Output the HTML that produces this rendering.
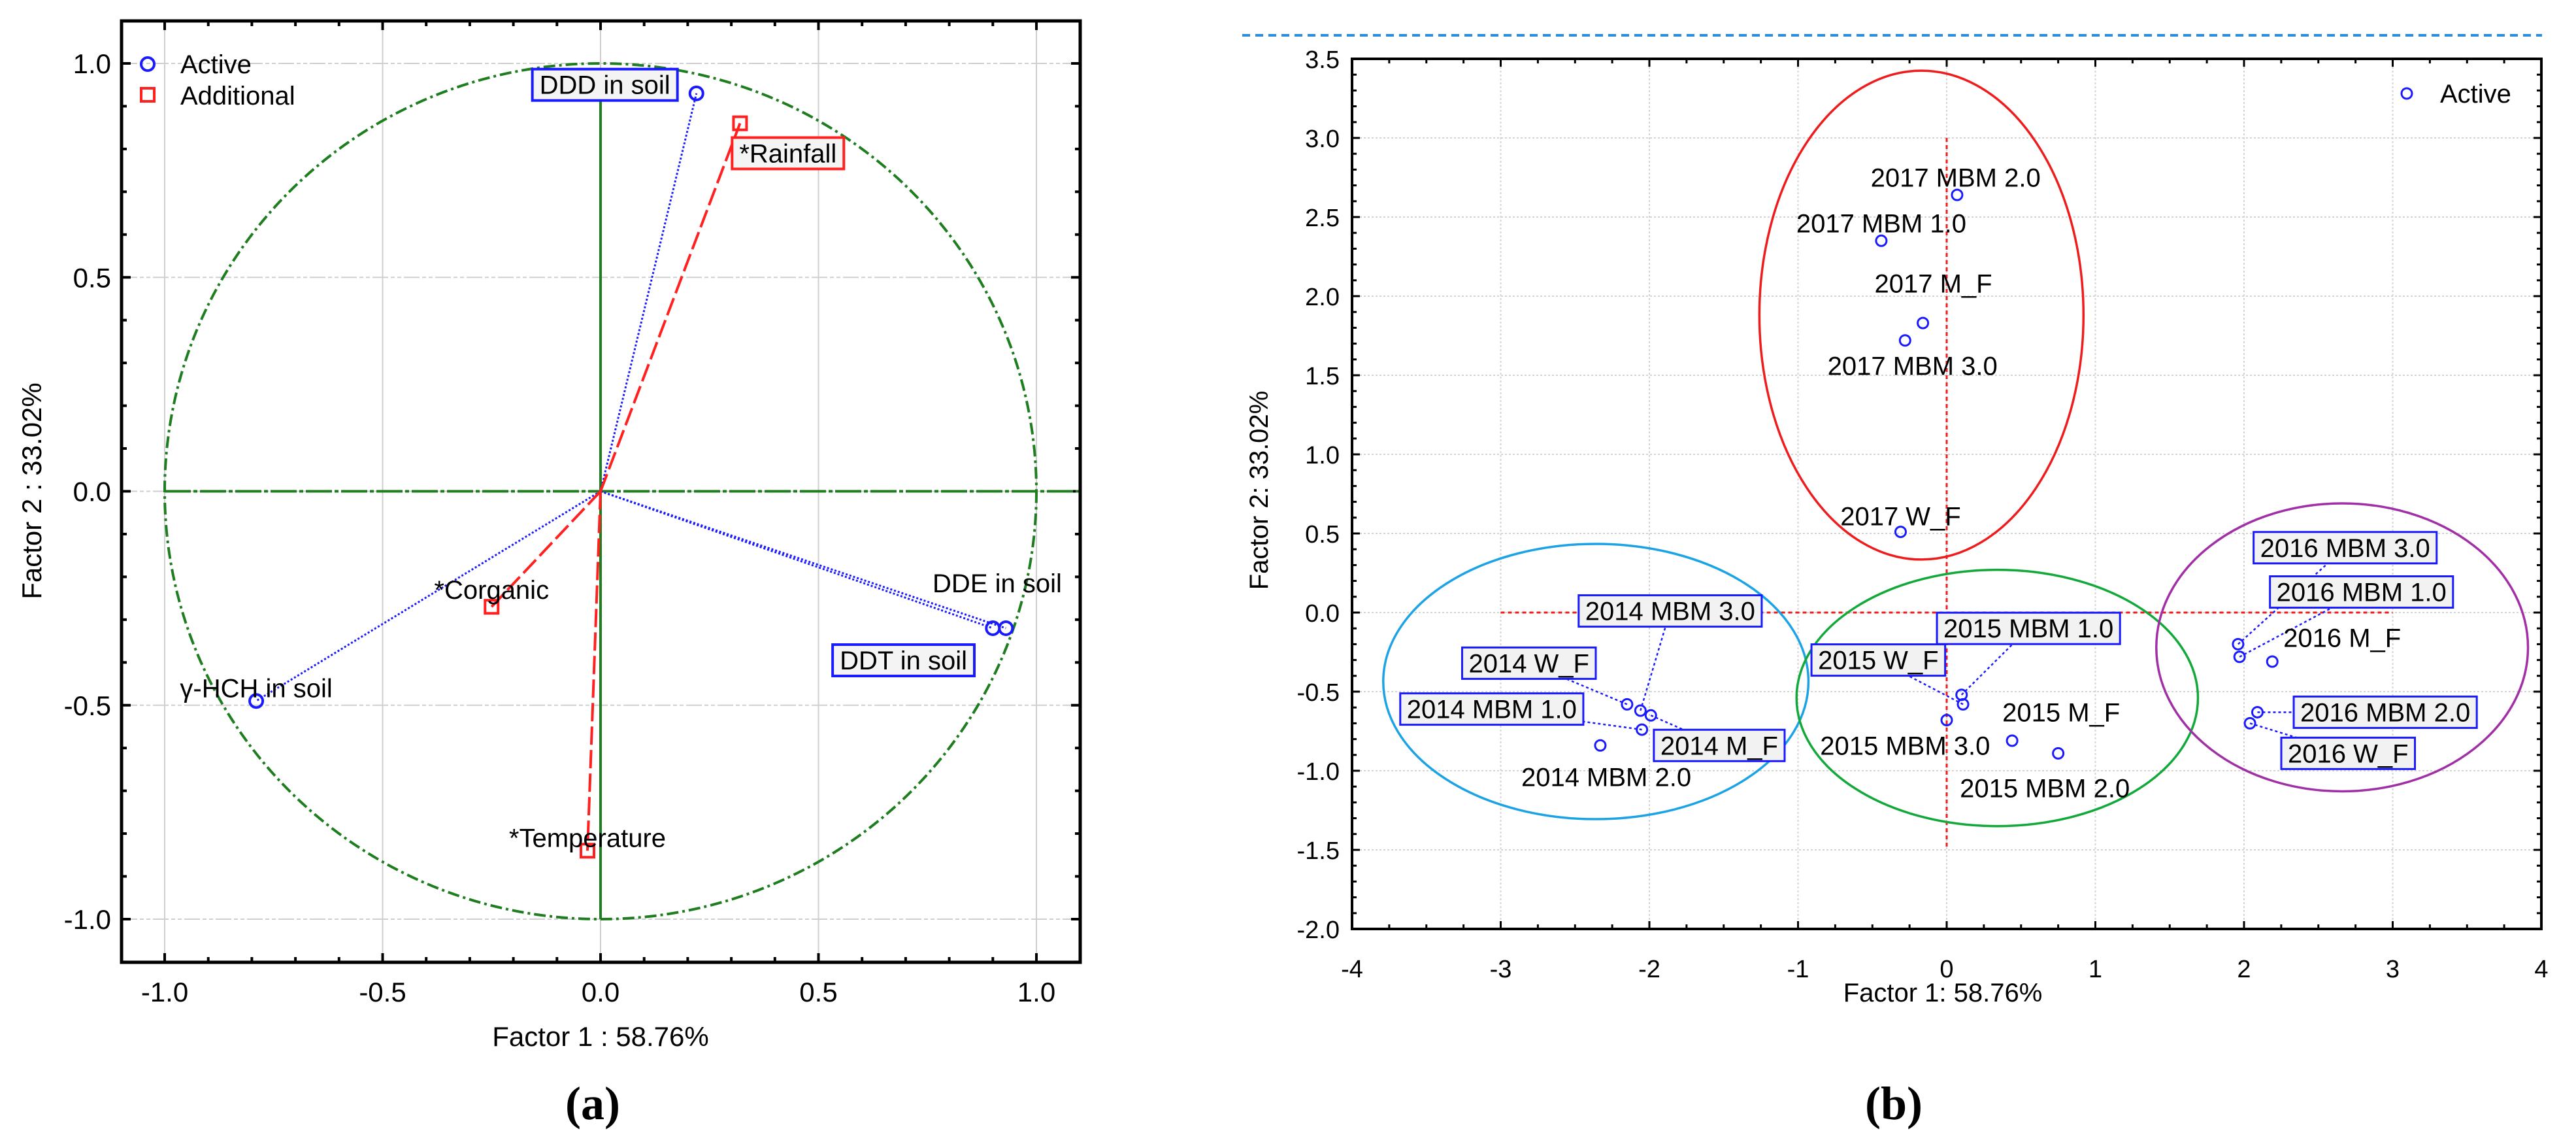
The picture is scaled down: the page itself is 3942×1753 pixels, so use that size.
<!DOCTYPE html>
<html><head><meta charset="utf-8"><style>
html,body{margin:0;padding:0;background:#fff;}
svg{display:block;font-family:"Liberation Sans",Arial,sans-serif;}
</style></head><body>
<svg id="fig" width="3942" height="1753" viewBox="0 0 3942 1753" xmlns="http://www.w3.org/2000/svg">
<g id="pa"></g>
<g id="pb"></g>
</svg>
<script>
// ---------- Panel A data ----------
const aNames = ["DDD in soil","DDE in soil","DDT in soil","γ-HCH in soil"];
const aX = [0.22, 0.93, 0.90, -0.79];
const aY = [0.93, -0.32, -0.32, -0.49];
const addNames = ["*Rainfall","*Corganic","*Temperature"];
const addX = [0.32, -0.25, -0.03];
const addY = [0.86, -0.27, -0.84];
const aTicks = [-1.0,-0.5,0.0,0.5,1.0];
const aTickLabels = ["-1.0","-0.5","0.0","0.5","1.0"];
const aLabX = [0.01, 0.91, 0.695, -0.79];
const aLabY = [0.95, -0.215, -0.395, -0.46];
const aLabBox = [true,false,true,false];
const addLabX = [0.43, -0.25, -0.03];
const addLabY = [0.79, -0.23, -0.81];
const addLabBox = [true,false,false];

// ---------- Panel B data ----------
const bNames = ["2017 MBM 2.0","2017 MBM 1.0","2017 M_F","2017 MBM 3.0","2017 W_F",
 "2014 W_F","2014 MBM 3.0","2014 M_F","2014 MBM 1.0","2014 MBM 2.0",
 "2015 MBM 1.0","2015 W_F","2015 MBM 3.0","2015 M_F","2015 MBM 2.0",
 "2016 MBM 3.0","2016 MBM 1.0","2016 M_F","2016 MBM 2.0","2016 W_F"];
const bX = [0.07,-0.44,-0.16,-0.28,-0.31, -2.15,-2.06,-1.99,-2.05,-2.33, 0.10,0.11,0.0,0.44,0.75, 1.96,1.97,2.19,2.09,2.04];
const bY = [2.64,2.35,1.83,1.72,0.51, -0.58,-0.62,-0.65,-0.74,-0.84, -0.52,-0.58,-0.68,-0.81,-0.89, -0.20,-0.28,-0.31,-0.63,-0.70];
const bLabX = [0.06,-0.44,-0.09,-0.23,-0.31, -2.81,-1.86,-1.53,-3.06,-2.29, 0.55,-0.46,-0.28,0.77,0.66, 2.68,2.79,2.66,2.95,2.70];
const bLabY = [2.75,2.46,2.08,1.56,0.61, -0.32,0.01,-0.84,-0.61,-1.04, -0.10,-0.30,-0.84,-0.63,-1.11, 0.41,0.13,-0.16,-0.63,-0.89];
const bLabBox = [false,false,false,false,false, true,true,true,true,false, true,true,false,false,false, true,true,false,true,true];
const bXTicks = [-4,-3,-2,-1,0,1,2,3,4];
const bXTickLabels = ["-4","-3","-2","-1","0","1","2","3","4"];
const bYTicks = [-2.0,-1.5,-1.0,-0.5,0.0,0.5,1.0,1.5,2.0,2.5,3.0,3.5];
const bYTickLabels = ["-2.0","-1.5","-1.0","-0.5","0.0","0.5","1.0","1.5","2.0","2.5","3.0","3.5"];
const ellCX = [-0.17,-2.36,0.34,2.66];
const ellCY = [1.88,-0.436,-0.54,-0.22];
const ellRX = [1.09,1.43,1.35,1.25];
const ellRY = [1.545,0.87,0.81,0.91];
const ellNames = ["ellipse-2017","ellipse-2014","ellipse-2015","ellipse-2016"];
const ellColors = ["#ee1c1c","#1ca3e6","#12a83a","#a12fa5"];

const NS="http://www.w3.org/2000/svg";
function mk(parent,tag,attrs,name){const e=document.createElementNS(NS,tag);for(const k in attrs)e.setAttribute(k,attrs[k]);


parent.appendChild(e);return e;}
function txt(parent,x,y,s,attrs,name){const e=mk(parent,'text',Object.assign({x:x,y:y},attrs||{}),name);e.textContent=s;return e;}

// ================= Panel A =================
(function(){
const g=document.getElementById('pa');
const X=v=>919+v*667, Y=v=>751.5-v*654.5;
const L=186,R=1653,T=32,B=1472;
aTicks.forEach((t,i)=>{
 mk(g,'line',{x1:X(t),x2:X(t),y1:T,y2:B,stroke:'#cfcfcf','stroke-width':2},'x-gridline');
 mk(g,'line',{x1:L,x2:R,y1:Y(t),y2:Y(t),stroke:'#cfcfcf','stroke-width':2,'stroke-dasharray':'24 4 6 4 6 4'},'y-gridline');
 txt(g,X(t),1532,aTickLabels[i],{'font-size':42,'text-anchor':'middle'},'x-tick-label');
 txt(g,170,Y(t)+15,aTickLabels[i],{'font-size':42,'text-anchor':'end'},'y-tick-label');
});
for(let k=-11;k<=11;k++){const v=k/10;const maj=Math.abs(k%5)==0;const len=maj?14:8;
 if(X(v)>L&&X(v)<R){mk(g,'line',{x1:X(v),x2:X(v),y1:B,y2:B-len,stroke:'#000','stroke-width':4},'x-tick');
  mk(g,'line',{x1:X(v),x2:X(v),y1:T,y2:T+len,stroke:'#000','stroke-width':4},'x-tick-top');}
 if(Y(v)>T&&Y(v)<B){mk(g,'line',{x1:L,x2:L+len,y1:Y(v),y2:Y(v),stroke:'#000','stroke-width':4},'y-tick');
  mk(g,'line',{x1:R,x2:R-len,y1:Y(v),y2:Y(v),stroke:'#000','stroke-width':4},'y-tick-right');}
}
mk(g,'ellipse',{cx:X(0),cy:Y(0),rx:667,ry:654.5,fill:'none',stroke:'#1e7d1e','stroke-width':4,'stroke-dasharray':'18 6 4 6'},'correlation-circle');
mk(g,'line',{x1:X(-1),x2:X(1.1),y1:Y(0),y2:Y(0),stroke:'#1e7d1e','stroke-width':4,'stroke-dasharray':'40 4 6 4'},'horizontal-axis-line');
mk(g,'line',{x1:X(0),x2:X(0),y1:Y(-1),y2:Y(0.92),stroke:'#1e7d1e','stroke-width':4},'vertical-axis-line');
aX.forEach((x,i)=>{
 mk(g,'line',{x1:X(0),y1:Y(0),x2:X(x),y2:Y(aY[i]),stroke:'#1a1aff','stroke-width':3,'stroke-dasharray':'3 3'},'active-vector');
});
addX.forEach((x,i)=>{
 mk(g,'line',{x1:X(0),y1:Y(0),x2:X(x),y2:Y(addY[i]),stroke:'#ff2020','stroke-width':4,'stroke-dasharray':'28 8'},'additional-vector');
});
aX.forEach((x,i)=>{
 mk(g,'circle',{cx:X(x),cy:Y(aY[i]),r:10,fill:'none',stroke:'#1a1aff','stroke-width':4},'active-point');
});
addX.forEach((x,i)=>{
 mk(g,'rect',{x:X(x)-10,y:Y(addY[i])-10,width:20,height:20,fill:'none',stroke:'#ff2020','stroke-width':4},'additional-point');
});
function lab(s,x,y,box,col){
 let r=null;
 if(box){r=mk(g,'rect',{x:0,y:Y(y)-24,width:10,height:48,fill:'#f4f4f4',stroke:col,'stroke-width':4},'label-box');}
 const t=txt(g,X(x),Y(y)+14,s,{'font-size':40,'text-anchor':'middle'},'point-label');
 if(r){const w=t.getComputedTextLength()+22;r.setAttribute('x',X(x)-w/2);r.setAttribute('width',w);}
}
aNames.forEach((s,i)=>lab(s,aLabX[i],aLabY[i],aLabBox[i],'#1a1aff'));
addNames.forEach((s,i)=>lab(s,addLabX[i],addLabY[i],addLabBox[i],'#ff2020'));
mk(g,'rect',{x:L,y:T,width:R-L,height:B-T,fill:'none',stroke:'#000','stroke-width':5},'plot-frame');
mk(g,'circle',{cx:226,cy:98,r:10,fill:'none',stroke:'#1a1aff','stroke-width':4},'legend-active-marker');
txt(g,276,112,'Active',{'font-size':40},'legend-active');
mk(g,'rect',{x:216,y:135,width:20,height:20,fill:'none',stroke:'#ff2020','stroke-width':4},'legend-additional-marker');
txt(g,276,160,'Additional',{'font-size':40},'legend-additional');
txt(g,919,1600,'Factor 1 : 58.76%',{'font-size':42,'text-anchor':'middle'},'x-axis-title');
txt(g,0,0,'Factor 2 : 33.02%',{'font-size':42,'text-anchor':'middle',transform:'translate(63,751) rotate(-90)'},'y-axis-title');
txt(g,907,1712,'(a)',{'font-size':72,'font-weight':'bold','text-anchor':'middle','font-family':'"Liberation Serif",serif'},'panel-a-caption');
})();

// ================= Panel B =================
(function(){
const g=document.getElementById('pb');
const X=v=>2979+v*227.5, Y=v=>937-v*242;
const L=2069,R=3889,T=90,B=1421;
mk(g,'line',{x1:1901,x2:3890,y1:54,y2:54,stroke:'#2a8de0','stroke-width':4,'stroke-dasharray':'12 8'},'top-dashed-line');
bXTicks.forEach((t,i)=>{
 if(i>0&&i<bXTicks.length-1)mk(g,'line',{x1:X(t),x2:X(t),y1:T,y2:B,stroke:'#d4d4d4','stroke-width':2,'stroke-dasharray':'3 3'},'x-gridline');
 txt(g,X(t),1495,bXTickLabels[i],{'font-size':38,'text-anchor':'middle'},'x-tick-label');
});
bYTicks.forEach((t,i)=>{
 if(i>0&&i<bYTicks.length-1)mk(g,'line',{x1:L,x2:R,y1:Y(t),y2:Y(t),stroke:'#d4d4d4','stroke-width':2,'stroke-dasharray':'3 3'},'y-gridline');
 txt(g,2050,Y(t)+14,bYTickLabels[i],{'font-size':38,'text-anchor':'end'},'y-tick-label');
});
for(let k=-16;k<=16;k++){const v=k/4;const len=(k%4==0)?12:7;
 if(X(v)>L&&X(v)<R){mk(g,'line',{x1:X(v),x2:X(v),y1:B,y2:B-len,stroke:'#000','stroke-width':3},'x-tick');
  mk(g,'line',{x1:X(v),x2:X(v),y1:T,y2:T+len,stroke:'#000','stroke-width':3},'x-tick-top');}}
for(let k=-20;k<=35;k++){const v=k/10;const len=(k%5==0)?12:7;
 if(Y(v)>T&&Y(v)<B){mk(g,'line',{x1:L,x2:L+len,y1:Y(v),y2:Y(v),stroke:'#000','stroke-width':3},'y-tick');
  mk(g,'line',{x1:R,x2:R-len,y1:Y(v),y2:Y(v),stroke:'#000','stroke-width':3},'y-tick-right');}}
mk(g,'line',{x1:X(-3),x2:X(3),y1:Y(0),y2:Y(0),stroke:'#ee1c1c','stroke-width':3,'stroke-dasharray':'6 5'},'origin-horizontal');
mk(g,'line',{x1:X(0),x2:X(0),y1:Y(3),y2:Y(-1.5),stroke:'#ee1c1c','stroke-width':3,'stroke-dasharray':'6 5'},'origin-vertical');
ellCX.forEach((c,i)=>{
 mk(g,'ellipse',{cx:X(c),cy:Y(ellCY[i]),rx:ellRX[i]*227.5,ry:ellRY[i]*242,fill:'none',stroke:ellColors[i],'stroke-width':3.5},ellNames[i]);
});
bNames.forEach((s,i)=>{
 if(bLabBox[i]) mk(g,'line',{x1:X(bX[i]),y1:Y(bY[i]),x2:X(bLabX[i]),y2:Y(bLabY[i]),stroke:'#1a1aff','stroke-width':2.5,'stroke-dasharray':'4 4'},'leader-line');
});
bNames.forEach((s,i)=>{
 const cx=X(bLabX[i]),cy=Y(bLabY[i]);
 let r=null;
 if(bLabBox[i]){r=mk(g,'rect',{x:0,y:cy-24,width:10,height:48,fill:'#f2f2f2',stroke:'#1a1aff','stroke-width':3},'label-box');}
 const t=txt(g,cx,cy+14,s,{'font-size':40,'text-anchor':'middle'},'point-label');
 if(r){const w=t.getComputedTextLength()+20;r.setAttribute('x',cx-w/2);r.setAttribute('width',w);}
});
bX.forEach((x,i)=>{
 mk(g,'circle',{cx:X(x),cy:Y(bY[i]),r:8,fill:'none',stroke:'#1a1aff','stroke-width':3},'active-point');
});
mk(g,'rect',{x:L,y:T,width:R-L,height:B-T,fill:'none',stroke:'#000','stroke-width':4},'plot-frame');
mk(g,'circle',{cx:3683,cy:143,r:8,fill:'none',stroke:'#1a1aff','stroke-width':3},'legend-active-marker');
txt(g,3734,157,'Active',{'font-size':40},'legend-active');
txt(g,2973,1532,'Factor 1: 58.76%',{'font-size':40,'text-anchor':'middle'},'x-axis-title');
txt(g,0,0,'Factor 2: 33.02%',{'font-size':40,'text-anchor':'middle',transform:'translate(1940,750) rotate(-90)'},'y-axis-title');
txt(g,2898,1712,'(b)',{'font-size':72,'font-weight':'bold','text-anchor':'middle','font-family':'"Liberation Serif",serif'},'panel-b-caption');
})();
</script>
</body></html>
